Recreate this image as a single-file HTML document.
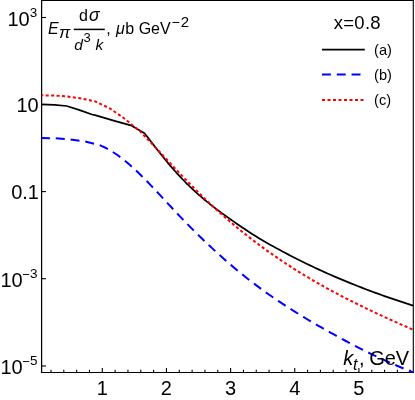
<!DOCTYPE html>
<html><head><meta charset="utf-8"><style>
html,body{margin:0;padding:0;background:#fff}
svg{display:block;will-change:transform}
text{font-family:"Liberation Sans",sans-serif;fill:#000}
</style></head><body>
<svg width="415" height="400" viewBox="0 0 415 400">
<rect width="415" height="400" fill="#fff"/>
<defs><clipPath id="c"><rect x="40.6" y="0" width="374.4" height="373.2"/></clipPath></defs>
<g stroke="#000" stroke-width="1.3" fill="none">
<line x1="41" y1="0.5" x2="414" y2="0.5" stroke-width="1.1"/><line x1="41" y1="372.5" x2="414" y2="372.5" stroke-width="1.1"/><line x1="41.6" y1="0" x2="41.6" y2="373" stroke-width="1.25"/><line x1="413.3" y1="0" x2="413.3" y2="373" stroke-width="1.1"/>
</g>
<g stroke="#000" stroke-width="1.1"><line x1="50.98" y1="372.5" x2="50.98" y2="369.8"/><line x1="63.81" y1="372.5" x2="63.81" y2="369.8"/><line x1="76.64" y1="372.5" x2="76.64" y2="369.8"/><line x1="89.47" y1="372.5" x2="89.47" y2="369.8"/><line x1="102.30" y1="372.5" x2="102.30" y2="368.1"/><line x1="115.13" y1="372.5" x2="115.13" y2="369.8"/><line x1="127.96" y1="372.5" x2="127.96" y2="369.8"/><line x1="140.79" y1="372.5" x2="140.79" y2="369.8"/><line x1="153.62" y1="372.5" x2="153.62" y2="369.8"/><line x1="166.45" y1="372.5" x2="166.45" y2="368.1"/><line x1="179.28" y1="372.5" x2="179.28" y2="369.8"/><line x1="192.11" y1="372.5" x2="192.11" y2="369.8"/><line x1="204.94" y1="372.5" x2="204.94" y2="369.8"/><line x1="217.77" y1="372.5" x2="217.77" y2="369.8"/><line x1="230.60" y1="372.5" x2="230.60" y2="368.1"/><line x1="243.43" y1="372.5" x2="243.43" y2="369.8"/><line x1="256.26" y1="372.5" x2="256.26" y2="369.8"/><line x1="269.09" y1="372.5" x2="269.09" y2="369.8"/><line x1="281.92" y1="372.5" x2="281.92" y2="369.8"/><line x1="294.75" y1="372.5" x2="294.75" y2="368.1"/><line x1="307.58" y1="372.5" x2="307.58" y2="369.8"/><line x1="320.41" y1="372.5" x2="320.41" y2="369.8"/><line x1="333.24" y1="372.5" x2="333.24" y2="369.8"/><line x1="346.07" y1="372.5" x2="346.07" y2="369.8"/><line x1="358.90" y1="372.5" x2="358.90" y2="368.1"/><line x1="371.73" y1="372.5" x2="371.73" y2="369.8"/><line x1="384.56" y1="372.5" x2="384.56" y2="369.8"/><line x1="397.39" y1="372.5" x2="397.39" y2="369.8"/><line x1="410.22" y1="372.5" x2="410.22" y2="369.8"/><line x1="41.5" y1="17.5" x2="46" y2="17.5"/><line x1="41.5" y1="104.55" x2="46" y2="104.55"/><line x1="41.5" y1="191.6" x2="46" y2="191.6"/><line x1="41.5" y1="278.7" x2="46" y2="278.7"/><line x1="41.5" y1="366.0" x2="46" y2="366.0"/></g>
<g clip-path="url(#c)" fill="none" stroke-linejoin="round">
<path d="M41.50,104.40 L54.50,104.80 L66.70,106.00 L79.00,109.90 L92.00,114.50 L95.00,115.20 L114.50,120.80 L131.70,125.70 L144.50,133.17 L147.50,137.08 L150.50,140.97 L153.50,144.86 L156.50,148.71 L159.50,152.52 L162.50,156.28 L165.50,159.98 L168.50,163.59 L171.50,167.11 L174.50,170.54 L177.50,173.87 L180.50,177.10 L183.50,180.25 L186.50,183.29 L189.50,186.25 L192.50,189.11 L195.50,191.89 L198.50,194.57 L201.50,197.18 L204.50,199.71 L207.50,202.16 L210.50,204.56 L213.50,206.89 L216.50,209.18 L219.50,211.41 L222.50,213.61 L225.50,215.77 L228.50,217.90 L231.50,220.01 L234.50,222.10 L237.50,224.18 L240.50,226.25 L243.50,228.29 L246.50,230.31 L249.50,232.29 L252.50,234.23 L255.50,236.11 L258.50,237.95 L261.50,239.74 L264.50,241.49 L267.50,243.21 L270.50,244.90 L273.50,246.57 L276.50,248.22 L279.50,249.85 L282.50,251.47 L285.50,253.06 L288.50,254.63 L291.50,256.19 L294.50,257.72 L297.50,259.24 L300.50,260.74 L303.50,262.22 L306.50,263.68 L309.50,265.13 L312.50,266.56 L315.50,267.97 L318.50,269.36 L321.50,270.74 L324.50,272.10 L327.50,273.44 L330.50,274.77 L333.50,276.08 L336.50,277.37 L339.50,278.65 L342.50,279.91 L345.50,281.16 L348.50,282.39 L351.50,283.61 L354.50,284.81 L357.50,286.00 L360.50,287.17 L363.50,288.33 L366.50,289.48 L369.50,290.61 L372.50,291.72 L375.50,292.83 L378.50,293.91 L381.50,294.99 L384.50,296.05 L387.50,297.10 L390.50,298.14 L393.50,299.17 L396.50,300.18 L399.50,301.18 L402.50,302.17 L405.50,303.15 L408.50,304.11 L411.50,305.07 L413.10,305.57" stroke="#000" stroke-width="1.75"/>
<path d="M41.50,138.00 L55.00,138.25 L70.00,139.50 L85.00,141.50 L99.40,145.07 L102.40,146.31 L105.40,147.73 L108.40,149.33 L111.40,151.08 L114.40,152.99 L117.40,155.05 L120.40,157.24 L123.40,159.56 L126.40,162.01 L129.40,164.56 L132.40,167.22 L135.40,169.97 L138.40,172.81 L141.40,175.73 L144.40,178.72 L147.40,181.76 L150.40,184.86 L153.40,188.01 L156.40,191.18 L159.40,194.39 L162.40,197.61 L165.40,200.84 L168.40,204.08 L171.40,207.30 L174.40,210.51 L177.40,213.70 L180.40,216.85 L183.40,219.98 L186.40,223.07 L189.40,226.13 L192.40,229.15 L195.40,232.14 L198.40,235.10 L201.40,238.03 L204.40,240.92 L207.40,243.78 L210.40,246.60 L213.40,249.39 L216.40,252.14 L219.40,254.86 L222.40,257.55 L225.40,260.19 L228.40,262.81 L231.40,265.38 L234.40,267.92 L237.40,270.43 L240.40,272.89 L243.40,275.32 L246.40,277.72 L249.40,280.07 L252.40,282.39 L255.40,284.67 L258.40,286.91 L261.40,289.12 L264.40,291.30 L267.40,293.44 L270.40,295.55 L273.40,297.63 L276.40,299.68 L279.40,301.70 L282.40,303.69 L285.40,305.66 L288.40,307.60 L291.40,309.51 L294.40,311.40 L297.40,313.27 L300.40,315.11 L303.40,316.94 L306.40,318.74 L309.40,320.52 L312.40,322.29 L315.40,324.04 L318.40,325.77 L321.40,327.49 L324.40,329.19 L327.40,330.88 L330.40,332.56 L333.40,334.22 L336.40,335.87 L339.40,337.51 L342.40,339.14 L345.40,340.75 L348.40,342.35 L351.40,343.93 L354.40,345.49 L357.40,347.04 L360.40,348.57 L363.40,350.09 L366.40,351.59 L369.40,353.07 L372.40,354.53 L375.40,355.97 L378.40,357.39 L381.40,358.79 L384.40,360.17 L387.40,361.53 L390.40,362.87 L393.40,364.19 L396.40,365.48 L399.40,366.75 L402.40,368.00 L405.40,369.23 L408.40,370.42 L411.40,371.60 L413.50,372.40" stroke="#0000ff" stroke-width="2" stroke-dasharray="9.03 5.83" stroke-dashoffset="0.6"/>
<path d="M41.50,95.30 L55.00,95.60 L65.00,96.20 L80.00,98.20 L95.00,101.30 L110.00,108.50 L125.00,119.00 L134.00,126.50 L140.00,131.00 L141.00,132.37 L144.00,135.47 L147.00,138.60 L150.00,141.75 L153.00,144.92 L156.00,148.10 L159.00,151.30 L162.00,154.50 L165.00,157.71 L168.00,160.91 L171.00,164.11 L174.00,167.31 L177.00,170.49 L180.00,173.65 L183.00,176.80 L186.00,179.92 L189.00,183.02 L192.00,186.08 L195.00,189.11 L198.00,192.11 L201.00,195.06 L204.00,197.97 L207.00,200.84 L210.00,203.67 L213.00,206.47 L216.00,209.22 L219.00,211.94 L222.00,214.62 L225.00,217.26 L228.00,219.86 L231.00,222.43 L234.00,224.96 L237.00,227.46 L240.00,229.92 L243.00,232.35 L246.00,234.75 L249.00,237.11 L252.00,239.43 L255.00,241.73 L258.00,243.99 L261.00,246.22 L264.00,248.41 L267.00,250.58 L270.00,252.72 L273.00,254.83 L276.00,256.90 L279.00,258.95 L282.00,260.97 L285.00,262.97 L288.00,264.93 L291.00,266.87 L294.00,268.79 L297.00,270.68 L300.00,272.54 L303.00,274.38 L306.00,276.19 L309.00,277.99 L312.00,279.76 L315.00,281.50 L318.00,283.23 L321.00,284.93 L324.00,286.61 L327.00,288.28 L330.00,289.92 L333.00,291.54 L336.00,293.15 L339.00,294.74 L342.00,296.31 L345.00,297.86 L348.00,299.40 L351.00,300.92 L354.00,302.42 L357.00,303.92 L360.00,305.39 L363.00,306.85 L366.00,308.30 L369.00,309.74 L372.00,311.16 L375.00,312.58 L378.00,313.98 L381.00,315.37 L384.00,316.75 L387.00,318.12 L390.00,319.49 L393.00,320.84 L396.00,322.19 L399.00,323.53 L402.00,324.86 L405.00,326.18 L408.00,327.50 L411.00,328.82 L413.10,329.74" stroke="#ff0000" stroke-width="2" stroke-dasharray="3.05 2.4" stroke-dashoffset="1.3"/>
</g>
<g font-size="20px">
<text x="7.5" y="26">10<tspan font-size="13.5px" dy="-9.4">3</tspan></text>
<text x="16.5" y="112">10</text>
<text x="11.2" y="199.2">0.1</text>
<text x="0.5" y="286.8">10</text><text x="22.3" y="278.8" font-size="13px">−</text><text x="29.9" y="277.8" font-size="13.5px">3</text>
<text x="0.5" y="373.8">10</text><text x="22.3" y="365.8" font-size="13px">−</text><text x="29.9" y="364.8" font-size="13.5px">5</text>
<text x="102.3" y="394.6" text-anchor="middle">1</text>
<text x="166.4" y="394.6" text-anchor="middle">2</text>
<text x="230.5" y="394.6" text-anchor="middle">3</text>
<text x="294.8" y="394.6" text-anchor="middle">4</text>
<text x="358.9" y="394.6" text-anchor="middle">5</text>
</g>
<g font-size="16px">
<text x="48" y="33.9" font-style="italic">E</text>
<text x="58.9" y="37.9" font-size="17px" font-style="italic">π</text>
<text x="79" y="20.9">d</text>
<text x="89" y="20.9" font-size="17.5px" font-style="italic">σ</text>
<line x1="73.8" y1="29.4" x2="104.8" y2="29.4" stroke="#000" stroke-width="1.5"/>
<text x="74.3" y="50.2" font-style="italic" font-size="15.5px">d</text>
<text x="83.4" y="42.3" font-size="13px">3</text>
<text x="95.5" y="50.2" font-style="italic" font-size="15.5px">k</text>
<text x="106.3" y="34.1">,</text>
<text x="116" y="34.1" font-style="italic">μ</text>
<text x="125.3" y="34.1">b GeV</text>
<text x="171.4" y="27.1" font-size="14.2px">−</text><text x="180.8" y="26.9" font-size="15px">2</text>
<text x="343.3" y="365" font-size="20px" font-style="italic">k</text>
<text x="353" y="369.8" font-size="16px" font-style="italic">t</text>
<text x="359" y="364.9" font-size="20px">,</text><text x="369.2" y="364.8" font-size="20px">GeV</text>
</g>
<text x="333.8" y="29.2" font-size="18.5px" letter-spacing="0.25">x=0.8</text>
<g font-size="14.6px">
<text x="374.1" y="54.8">(a)</text>
<text x="374.1" y="79.8">(b)</text>
<text x="374.1" y="104.8">(c)</text>
</g>
<g fill="none">
<line x1="322" y1="49.6" x2="364.8" y2="49.6" stroke="#000" stroke-width="1.8"/>
<line x1="322" y1="74.5" x2="364.8" y2="74.5" stroke="#0000ff" stroke-width="2" stroke-dasharray="8.9 5.9"/>
<line x1="322" y1="99.9" x2="364.8" y2="99.9" stroke="#ff0000" stroke-width="2" stroke-dasharray="3 2.5"/>
</g>
</svg>
</body></html>
